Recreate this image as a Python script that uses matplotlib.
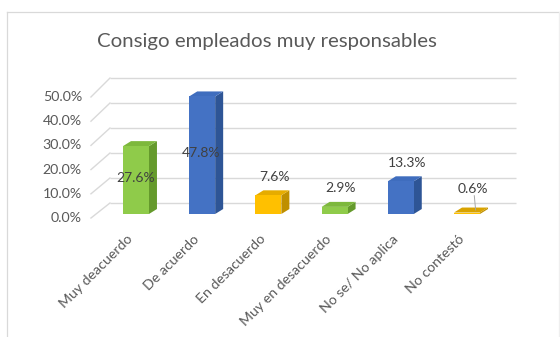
import matplotlib
matplotlib.use("Agg")
import matplotlib.pyplot as plt
from matplotlib.patches import Polygon
from matplotlib.lines import Line2D

plt.rcParams['font.family'] = ['Lato', 'DejaVu Sans']

# ---- data ----
title = "Consigo empleados muy responsables"
categories = ["Muy deacuerdo", "De acuerdo", "En desacuerdo",
              "Muy en desacuerdo", "No se/ No aplica", "No contestó"]
values = [27.6, 47.8, 7.6, 2.9, 13.3, 0.6]
value_labels = ["27.6%", "47.8%", "7.6%", "2.9%", "13.3%", "0.6%"]
ticks = [0, 10, 20, 30, 40, 50]
tick_labels = ["0.0%", "10.0%", "20.0%", "30.0%", "40.0%", "50.0%"]

# ---- style ----
front_cols = ["#8FCB4A", "#4472C4", "#FFC000", "#8FCB4A", "#4472C4", "#FFC000"]
side_cols = ["#659A2C", "#2E5596", "#BF8F00", "#659A2C", "#2E5596", "#BF8F00"]
top_cols = ["#7DB83C", "#3F6DBE", "#E6AC00", "#7DB83C", "#3F6DBE", "#D9A300"]
label_inside = [True, True, False, False, False, False]
grid_col = "#D9D9D9"
text_col = "#595959"
label_col = "#404040"

W, H, DPI = 560, 337, 100
fig = plt.figure(figsize=(W / DPI, H / DPI), dpi=DPI)
fig.patch.set_facecolor("white")
ax = fig.add_axes([0, 0, 1, 1])
ax.set_xlim(-2.054, 6.405)
ax.set_ylim(-50.0, 87.0)
ax.axis("off")

# chart frame
fig.add_artist(Line2D([7 / W, 7 / W], [0, 1 - 12 / H], transform=fig.transFigure,
                      color="#D9D9D9", lw=0.9))
fig.add_artist(Line2D([7 / W, 559 / W], [1 - 12 / H, 1 - 12 / H], transform=fig.transFigure,
                      color="#D9D9D9", lw=0.9))
fig.add_artist(Line2D([559 / W, 559 / W], [0, 1 - 12 / H], transform=fig.transFigure,
                      color="#EFEFEF", lw=0.9))

fig.text(0.476, 1 - 42 / H, title, ha="center", va="center",
         fontsize=14.7, color=text_col)

# wall geometry (category units / percent units)
hw = 0.196          # half bar width
dx, dy = 0.121, 2.03  # bar depth offset
wall_front_x, wall_back_x, wall_right_x = -0.68, -0.393, 5.74


def front_y(v):
    return -1.63 + 0.984 * v


def back_y(v):
    return 4.47 + 1.016 * v


for t, tl in zip(ticks, tick_labels):
    ax.plot([wall_back_x, wall_right_x], [back_y(t), back_y(t)], color=grid_col,
            lw=1.0, zorder=1, solid_capstyle="butt")
    ax.plot([wall_front_x, wall_back_x], [front_y(t), back_y(t)], color=grid_col,
            lw=1.0, zorder=1)
    ax.text(-0.816, front_y(t), tl, ha="right", va="center", fontsize=10.2,
            color=text_col)

# 3-D looking columns
for i, v in enumerate(values):
    c = i
    front = [(c - hw, 0), (c + hw, 0), (c + hw, v), (c - hw, v)]
    side = [(c + hw, 0), (c + hw + dx, dy), (c + hw + dx, v + dy), (c + hw, v)]
    top = [(c - hw, v), (c + hw, v), (c + hw + dx, v + dy), (c - hw + dx, v + dy)]
    ax.add_patch(Polygon(side, closed=True, facecolor=side_cols[i], edgecolor="none", zorder=3))
    ax.add_patch(Polygon(top, closed=True, facecolor=top_cols[i], edgecolor="none", zorder=3))
    ax.add_patch(Polygon(front, closed=True, facecolor=front_cols[i], edgecolor="none", zorder=4))

    if label_inside[i]:
        ax.text(c - 0.01, v / 2 + 0.8, value_labels[i], ha="center", va="center",
                fontsize=10, color=label_col, zorder=6)
    else:
        ly = v + dy + 5.6 + (2.0 if v < 1 else 0)
        ax.text(c + dx / 2 + 0.03, ly, value_labels[i], ha="center", va="center",
                fontsize=10, color=label_col, zorder=6)
        if v < 1:
            ax.plot([c + dx / 2 + 0.05, c + dx / 2 + 0.07], [ly - 2.8, v + dy / 2],
                    color="#A6A6A6", lw=0.7, zorder=5)

    ax.text(c - 0.075, -9.3, categories[i], rotation=45, rotation_mode="anchor",
            ha="right", va="center", fontsize=10.2, color=text_col)

fig.savefig("out.png", dpi=DPI, facecolor="white")
